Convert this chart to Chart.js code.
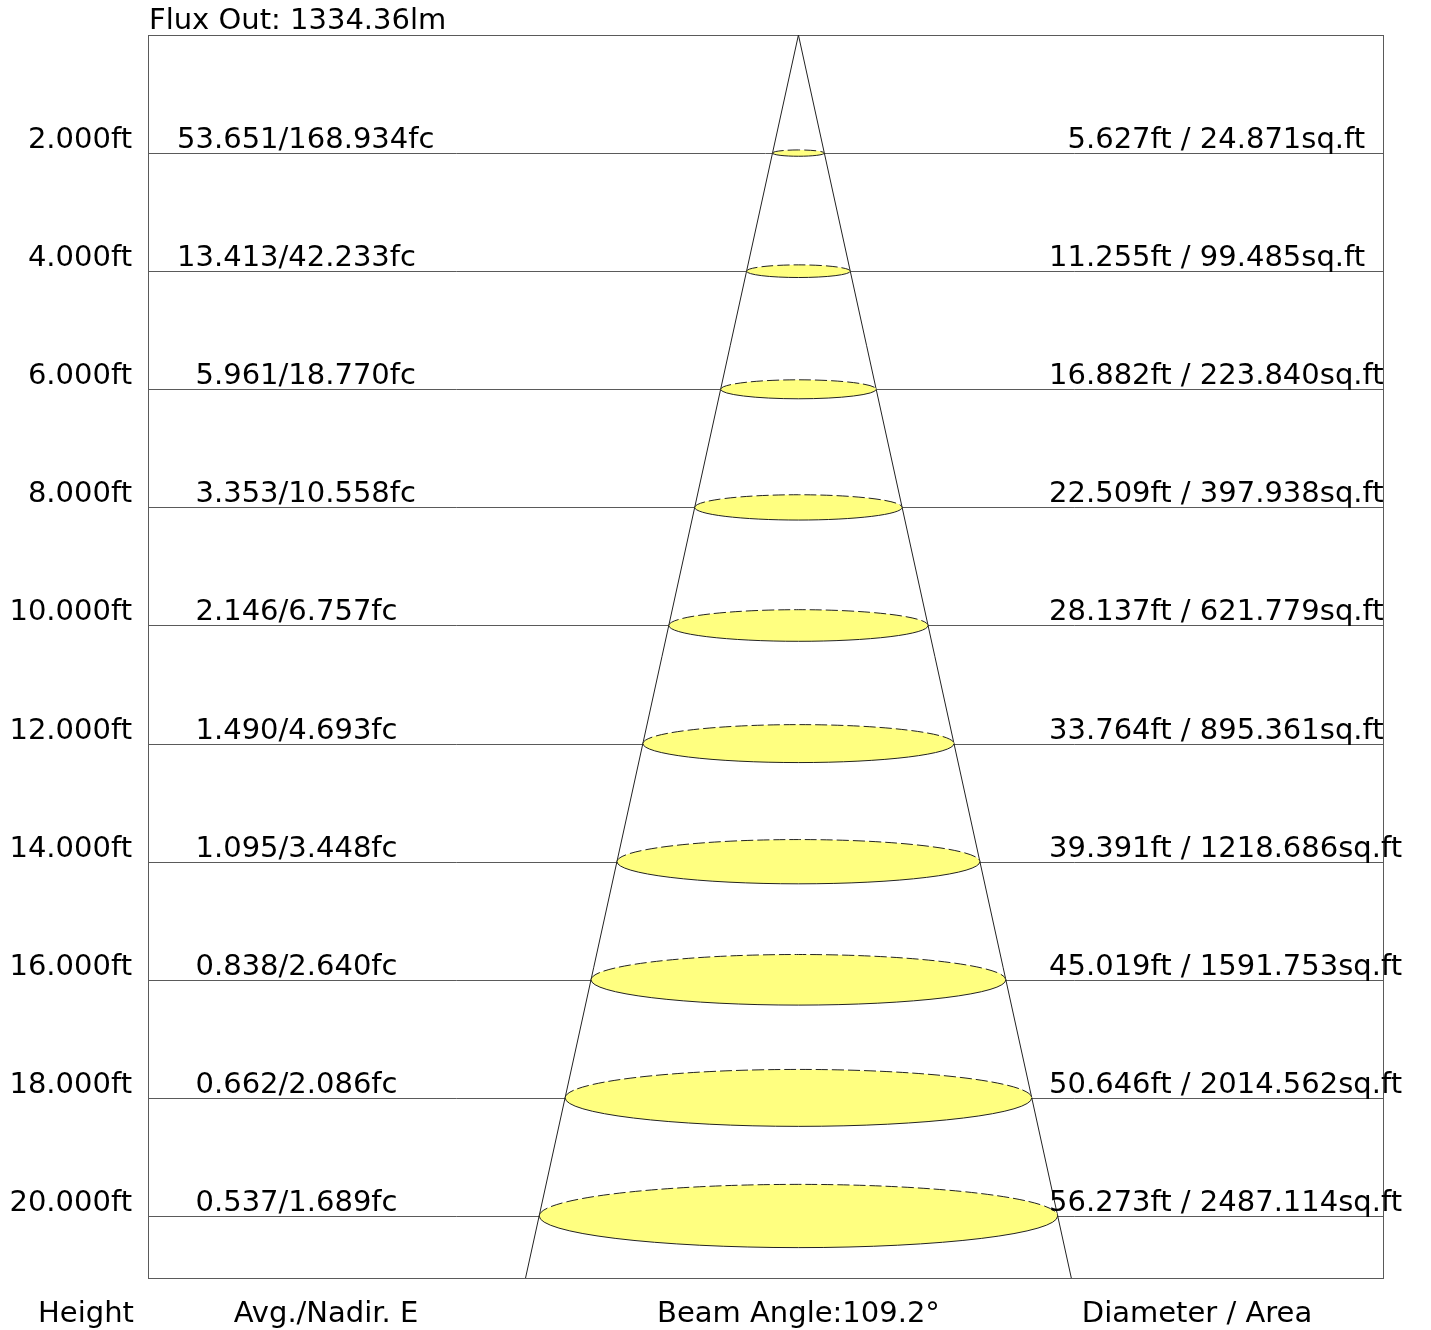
<!DOCTYPE html>
<html>
<head>
<meta charset="utf-8">
<script src="https://cdn.jsdelivr.net/npm/chart.js@4.4.0/dist/chart.umd.min.js"></script>
<style>
html,body{margin:0;padding:0;background:#fff;}
#wrap{width:1431px;height:1330px;position:relative;}
</style>
</head>
<body>
<div id="wrap"><canvas id="c" width="1431" height="1330"></canvas></div>
<script>
// ---- data ----
const heights = [2, 4, 6, 8, 10, 12, 14, 16, 18, 20];           // ft
const avgE    = ["53.651","13.413","5.961","3.353","2.146","1.490","1.095","0.838","0.662","0.537"]; // fc
const nadirE  = ["168.934","42.233","18.770","10.558","6.757","4.693","3.448","2.640","2.086","1.689"]; // fc
const diameters = ["5.627","11.255","16.882","22.509","28.137","33.764","39.391","45.019","50.646","56.273"]; // ft
const areas   = ["24.871","99.485","223.840","397.938","621.779","895.361","1218.686","1591.753","2014.562","2487.114"]; // sq.ft
const beamAngle = 109.2;   // degrees
const fluxOut = "1334.36"; // lm
const heightLabels = heights.map(h => h.toFixed(3) + "ft");
const footerLabels = ["Height", "Avg./Nadir. E", "Beam Angle:" + beamAngle + "°", "Diameter / Area"];

// ---- scale extents (data units: ft) ----
const yMax = 21.05;
const xMin = -70.6, xMax = 63.45;
const halfTan = Math.tan(beamAngle / 2 * Math.PI / 180);

// cone as a line dataset
const conePts = [
  {x: -yMax * halfTan, y: yMax},
  {x: 0, y: 0},
  {x: yMax * halfTan, y: yMax}
];

const FONT = '29px "DejaVu Sans", Verdana, sans-serif';

const drawPlugin = {
  id: 'photometric',
  beforeDatasetsDraw(chart) {
    const {ctx, chartArea: a, scales: {x, y}} = chart;
    ctx.save();
    // horizontal level lines
    ctx.strokeStyle = '#5a5a5a';
    ctx.lineWidth = 1;
    heights.forEach(h => {
      const py = Math.round(y.getPixelForValue(h)) + 0.5;
      ctx.beginPath();
      ctx.moveTo(a.left, py);
      ctx.lineTo(a.right, py);
      ctx.stroke();
    });
    // frame
    ctx.strokeRect(Math.round(a.left) + 0.5, Math.round(a.top) + 0.5, Math.round(a.right - a.left), Math.round(a.bottom - a.top));
    ctx.restore();
  },
  afterDatasetsDraw(chart) {
    const {ctx, chartArea: a, scales: {x, y}} = chart;
    ctx.save();
    // ellipses
    heights.forEach((h, i) => {
      const cx = x.getPixelForValue(0);
      const cy = y.getPixelForValue(h);
      const rx = x.getPixelForValue(parseFloat(diameters[i]) / 2) - cx;
      const ry = rx * 0.122;
      ctx.beginPath();
      ctx.ellipse(cx, cy, rx, ry, 0, 0, Math.PI * 2);
      ctx.fillStyle = '#ffff80';
      ctx.fill();
      ctx.lineWidth = 1;
      ctx.strokeStyle = '#222';
      // lower half solid
      ctx.setLineDash([]);
      ctx.beginPath();
      ctx.ellipse(cx, cy, rx, ry, 0, 0, Math.PI);
      ctx.stroke();
      // upper half dashed
      ctx.setLineDash([12, 4]);
      ctx.beginPath();
      ctx.ellipse(cx, cy, rx, ry, 0, Math.PI, Math.PI * 2);
      ctx.stroke();
    });
    ctx.setLineDash([]);
    // texts
    ctx.font = FONT;
    ctx.fillStyle = '#000';
    ctx.textBaseline = 'alphabetic';
    const avgDot = 214, diaDot = 1086;
    heights.forEach((h, i) => {
      const base = y.getPixelForValue(h) - 5;
      ctx.textAlign = 'right';
      ctx.fillText(heightLabels[i], 132, base);
      ctx.textAlign = 'left';
      const aInt = avgE[i].split('.')[0];
      ctx.fillText(avgE[i] + "/" + nadirE[i] + "fc", avgDot - ctx.measureText(aInt).width, base);
      const dInt = diameters[i].split('.')[0];
      ctx.fillText(diameters[i] + "ft / " + areas[i] + "sq.ft", diaDot - ctx.measureText(dInt).width, base);
    });
    ctx.textAlign = 'left';
    ctx.fillText("Flux Out: " + fluxOut + "lm", 149, 29);
    ctx.textAlign = 'center';
    const fy = 1322;
    ctx.fillText(footerLabels[0], 86, fy);
    ctx.fillText(footerLabels[1], 326, fy);
    ctx.fillText(footerLabels[2], x.getPixelForValue(0), fy);
    ctx.fillText(footerLabels[3], 1197, fy);
    ctx.restore();
  }
};

new Chart(document.getElementById('c'), {
  type: 'scatter',
  data: {
    datasets: [{
      data: conePts,
      showLine: true,
      borderColor: '#222',
      borderWidth: 1,
      pointRadius: 0,
      fill: false,
      tension: 0
    }]
  },
  options: {
    responsive: false,
    animation: false,
    devicePixelRatio: 1,
    layout: {padding: {left: 148, right: 48, top: 35, bottom: 52}},
    plugins: {legend: {display: false}, tooltip: {enabled: false}},
    scales: {
      x: {type: 'linear', display: false, min: xMin, max: xMax},
      y: {type: 'linear', display: false, reverse: true, min: 0, max: yMax}
    }
  },
  plugins: [drawPlugin]
});
</script>
</body>
</html>
